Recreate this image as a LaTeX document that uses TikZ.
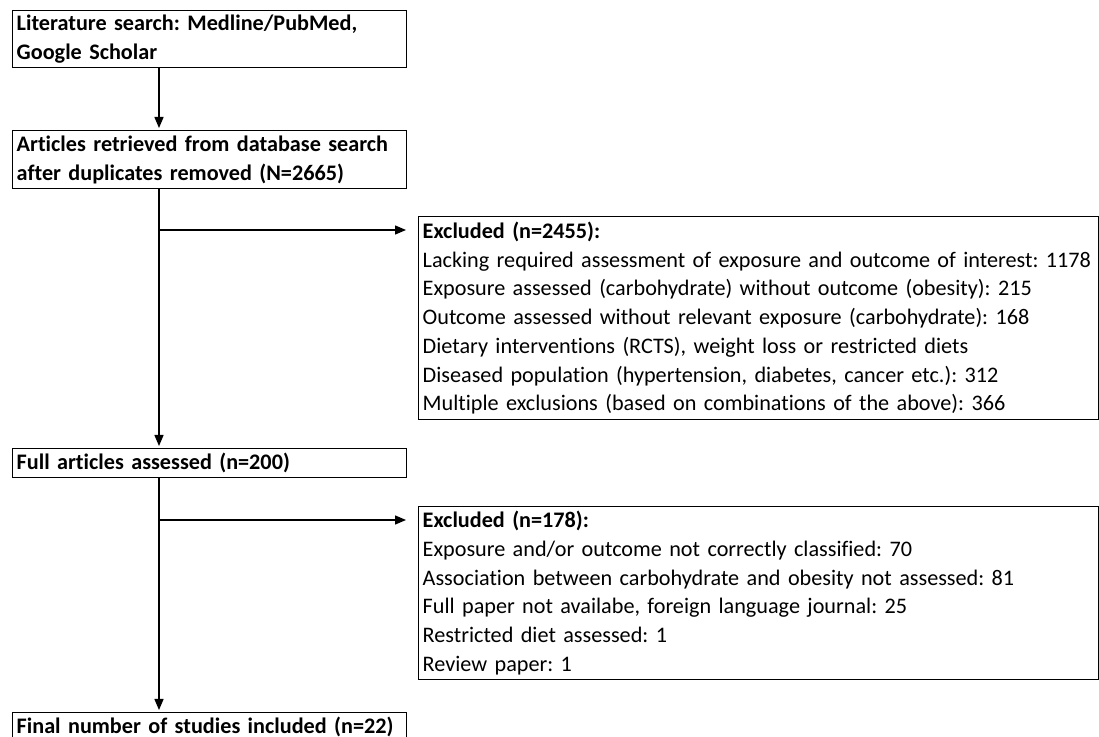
\documentclass[tikz,border=0pt]{standalone}
\usepackage{fontspec}
\setmainfont{Carlito}[Ligatures=NoCommon]
\usetikzlibrary{arrows.meta}
\frenchspacing

\begin{document}
\begin{tikzpicture}[x=0.5pt,y=-0.5pt,>={Triangle[length=5.5pt,width=4.5pt]},
  box/.style={draw, line width=0.7pt, anchor=north west, align=left, inner xsep=2pt, inner ysep=0pt,
    font=\fontsize{11.1}{14.35}\selectfont},
  mainbox/.style={box, text width=193pt, font=\bfseries\fontsize{11.1}{14.35}\selectfont},
  exbox/.style={box, text width=336pt},
  arr/.style={->, line width=0.7pt}]
\useasboundingbox (0,0) rectangle (1099,737);
% Main flow
\node[mainbox, minimum height=28.5pt] (lit) at (12,10) {Literature search: Medline/PubMed,\\Google Scholar};
\node[mainbox, minimum height=29pt] (art) at (12,130) {Articles retrieved from database search\\after duplicates removed (N=2665)};
\node[mainbox, minimum height=14.5pt] (full) at (12,448) {Full articles assessed (n=200)};
\node[mainbox, minimum height=14.5pt] (final) at (12,712) {Final number of studies included (n=22)};
% Exclusions
\node[exbox, minimum height=101.5pt] (ex1) at (418,216) {\textbf{Excluded (n=2455):}\\
  Lacking required assessment of exposure and outcome of interest: 1178\\
  Exposure assessed (carbohydrate) without outcome (obesity): 215\\
  Outcome assessed without relevant exposure (carbohydrate): 168\\
  Dietary interventions (RCTS), weight loss or restricted diets\\
  Diseased population (hypertension, diabetes, cancer etc.): 312\\
  Multiple exclusions (based on combinations of the above): 366};
\node[exbox, minimum height=86.5pt] (ex2) at (418,506) {\textbf{Excluded (n=178):}\\
  Exposure and/or outcome not correctly classified: 70\\
  Association between carbohydrate and obesity not assessed: 81\\
  Full paper not availabe, foreign language journal: 25\\
  Restricted diet assessed: 1\\
  Review paper: 1};
% Trunk and branch points
\coordinate (trunk) at (159,0);
\coordinate (br1) at (159,230);
\coordinate (br2) at (159,520);
% Vertical arrows
\draw[arr, shorten >=1pt] (lit.south -| trunk) -- (art.north -| trunk);
\draw[arr, shorten >=1pt] (art.south -| trunk) -- (full.north -| trunk);
\draw[arr, shorten >=1pt] (full.south -| trunk) -- (final.north -| trunk);
% Side arrows
\draw[arr, shorten >=6pt] (br1) -- (br1 -| ex1.west);
\draw[arr, shorten >=6pt] (br2) -- (br2 -| ex2.west);
\end{tikzpicture}
\end{document}
